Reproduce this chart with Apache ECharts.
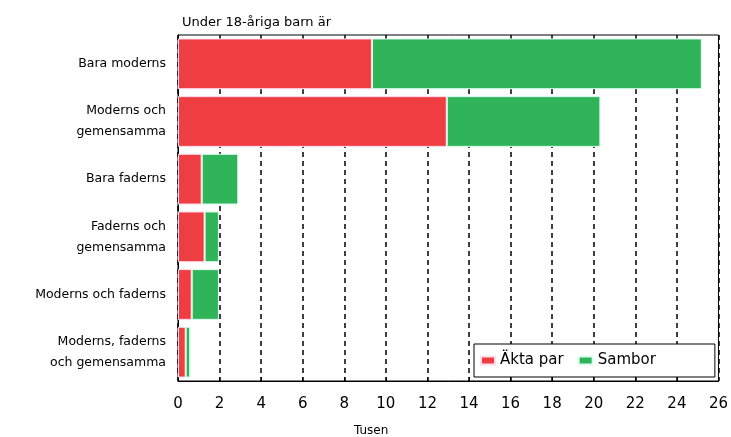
<!DOCTYPE html>
<html><head><meta charset="utf-8">
<script src="https://cdn.jsdelivr.net/npm/echarts@6/dist/echarts.min.js"></script>
<style>html,body{margin:0;padding:0;background:#fff}#c{width:731px;height:437px}</style>
</head><body><div id="c"></div>
<script>
const categories = ["Bara moderns", "Moderns och\ngemensamma", "Bara faderns", "Faderns och\ngemensamma", "Moderns och faderns", "Moderns, faderns\noch gemensamma"];
const aktaPar = [9.33, 12.93, 1.14, 1.28, 0.66, 0.37];
const sambor = [15.87, 7.39, 1.76, 0.69, 1.31, 0.22];
const xTicks = {min: 0, max: 26, interval: 2};
const seriesNames = ["Äkta par", "Sambor"];
const colors = ["#EF3E42", "#30B45A"];

const chart = echarts.init(document.getElementById('c'), null, {renderer: 'canvas'});
chart.setOption({
  animation: false,
  backgroundColor: '#fff',
  color: colors,
  grid: {left: 178, right: 9, top: 35, bottom: 56, show: true, borderColor: '#000', borderWidth: 1, containLabel: false},
  title: {text: 'Under 18-åriga barn är', left: 177, top: 11, textStyle: {fontFamily: 'DejaVu Sans', fontSize: 13, fontWeight: 'normal', color: '#000'}},
  legend: {
    left: 474, top: 344, orient: 'horizontal',
    data: seriesNames,
    itemWidth: 14, itemHeight: 8, itemGap: 14,
    borderColor: '#000', borderWidth: 1, borderRadius: 0,
    backgroundColor: '#fff', z: 10,
    padding: [9, 59, 9, 6],
    textStyle: {fontFamily: 'DejaVu Sans', fontSize: 15, color: '#000'},
    icon: 'rect'
  },
  xAxis: {
    type: 'value', min: xTicks.min, max: xTicks.max, interval: xTicks.interval,
    axisLine: {show: true, lineStyle: {color: '#000', width: 1}},
    axisTick: {show: true, inside: true, length: 4, lineStyle: {color: '#000'}},
    axisLabel: {fontFamily: 'DejaVu Sans', fontSize: 15, color: '#000', margin: 16},
    splitLine: {show: true, lineStyle: {color: '#000', type: [5, 4], width: 1.5}}
  },
  yAxis: {
    type: 'category', data: categories, inverse: true,
    axisLine: {show: true, lineStyle: {color: '#000', width: 1}},
    axisTick: {show: false},
    axisLabel: {fontFamily: 'DejaVu Sans', fontSize: 12.5, color: '#000', margin: 12, lineHeight: 21, align: 'right'}
  },
  graphic: [{type: 'text', left: 354, top: 425, style: {text: 'Tusen', fontFamily: 'DejaVu Sans', fontSize: 12, fill: '#000'}}],
  series: [
    {name: seriesNames[0], type: 'bar', stack: 'a', data: aktaPar, barCategoryGap: '12%', itemStyle: {borderColor: '#fde', borderWidth: 1}},
    {name: seriesNames[1], type: 'bar', stack: 'a', data: sambor, barCategoryGap: '12%', itemStyle: {borderColor: '#dfe', borderWidth: 1}}
  ]
});
</script></body></html>
